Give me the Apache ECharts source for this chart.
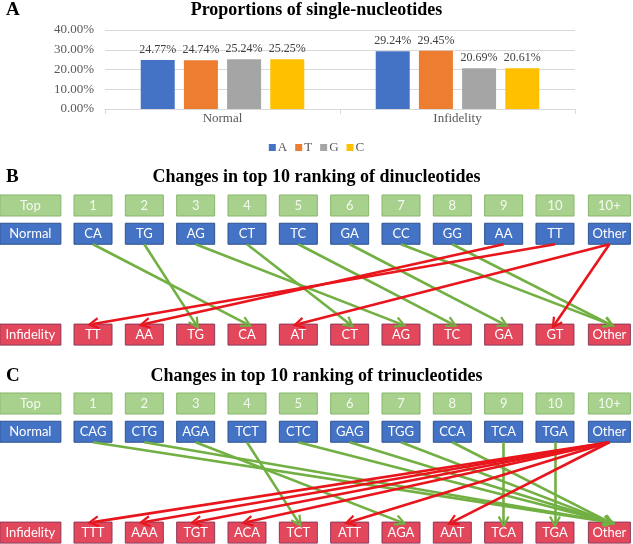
<!DOCTYPE html>
<html>
<head>
<meta charset="utf-8">
<script src="https://cdn.jsdelivr.net/npm/echarts@6/dist/echarts.min.js"></script>
<style>
html, body { margin: 0; padding: 0; background: #fff; }
#main { width: 633px; height: 544px; }
</style>
</head>
<body>
<div id="main"></div>
<script>
// panel A: proportions of single nucleotides (%)
const groups = ['Normal', 'Infidelity'];
const nucleotides = ['A', 'T', 'G', 'C'];
const normalPct = [24.77, 24.74, 25.24, 25.25];
const infidelityPct = [29.24, 29.45, 20.69, 20.61];

// panels B and C: top 10 rankings
const ranks = ['1', '2', '3', '4', '5', '6', '7', '8', '9', '10', '10+'];
const diNormal = ['CA', 'TG', 'AG', 'CT', 'TC', 'GA', 'CC', 'GG', 'AA', 'TT', 'Other'];
const diInfidelity = ['TT', 'AA', 'TG', 'CA', 'AT', 'CT', 'AG', 'TC', 'GA', 'GT', 'Other'];
const triNormal = ['CAG', 'CTG', 'AGA', 'TCT', 'CTC', 'GAG', 'TGG', 'CCA', 'TCA', 'TGA', 'Other'];
const triInfidelity = ['TTT', 'AAA', 'TGT', 'ACA', 'TCT', 'ATT', 'AGA', 'AAT', 'TCA', 'TGA', 'Other'];

const barColors = ['#4472c4', '#ed7d31', '#a5a5a5', '#ffc000'];
const SERIF = '"Liberation Serif", "Times New Roman", serif';
const SANS = 'Lato, "Noto Sans", sans-serif';

// layout of the ranking diagrams (axis units)
const ROW_Y = { top: 0, normal: 1, infidelity: 4.57 };
const BOX_H = 21;
const HALF_H = 0.372;
const LABEL_X = -0.22;
function colX (i) { return i === 10 ? 11.06 : i + 1; }

const BOX_STYLE = [
  { fill: '#a9d18e', stroke: '#86b86a', text: '#f4f9f0' },
  { fill: '#4472c4', stroke: '#2f528f', text: '#ffffff' },
  { fill: '#e2475c', stroke: '#8e3a5c', text: '#ffffff' }
];

function buildBoxes (normal, infidelity) {
  const boxes = [
    { x: LABEL_X, y: ROW_Y.top, text: 'Top', kind: 0, w: 61 },
    { x: LABEL_X, y: ROW_Y.normal, text: 'Normal', kind: 1, w: 61 },
    { x: LABEL_X, y: ROW_Y.infidelity, text: 'Infidelity', kind: 2, w: 61 }
  ];
  ranks.forEach((r, i) => {
    const w = i === 10 ? 42 : 38;
    boxes.push({ x: colX(i), y: ROW_Y.top, text: r, kind: 0, w });
    boxes.push({ x: colX(i), y: ROW_Y.normal, text: normal[i], kind: 1, w });
    boxes.push({ x: colX(i), y: ROW_Y.infidelity, text: infidelity[i], kind: 2, w });
  });
  return boxes;
}

// green = same or lower rank, red = moved up
function buildLinks (normal, infidelity) {
  const other = normal.length - 1;
  const green = [];
  const red = [];
  const add = (from, to) => {
    const link = { coords: [[colX(from), ROW_Y.normal + HALF_H], [colX(to), ROW_Y.infidelity - HALF_H]] };
    (to < from ? red : green).push(link);
  };
  normal.forEach((name, i) => {
    if (i === other) {
      infidelity.forEach((n2, j) => {
        if (j !== other && normal.indexOf(n2) < 0) add(i, j);
      });
    } else {
      const j = infidelity.indexOf(name);
      add(i, j < 0 ? other : j);
    }
  });
  return { green, red };
}

function boxSeries (boxes, idx) {
  return {
    type: 'custom',
    xAxisIndex: idx,
    yAxisIndex: idx,
    z: 3,
    silent: true,
    data: boxes.map(b => [b.x, b.y]),
    renderItem: function (params, api) {
      const b = boxes[params.dataIndex];
      const c = api.coord([b.x, b.y]);
      const st = BOX_STYLE[b.kind];
      return {
        type: 'group',
        children: [
          {
            type: 'rect',
            shape: { x: c[0] - b.w / 2, y: c[1] - BOX_H / 2, width: b.w, height: BOX_H },
            style: { fill: st.fill, stroke: st.stroke, lineWidth: 1 }
          },
          {
            type: 'text',
            style: {
              text: b.text, x: c[0], y: c[1] + 0.5, align: 'center', verticalAlign: 'middle',
              fill: st.text, fontSize: 13, fontFamily: SANS
            }
          }
        ]
      };
    }
  };
}

const ARROW = 'path://M5,0L10,9L8.3,9.8L5,3.8L1.7,9.8L0,9Z';
function linkSeries (links, color, idx) {
  return {
    type: 'lines',
    coordinateSystem: 'cartesian2d',
    xAxisIndex: idx,
    yAxisIndex: idx,
    z: 4,
    silent: true,
    symbol: ['none', ARROW],
    symbolSize: 12,
    lineStyle: { color: color, width: 2.6, opacity: 1 },
    data: links
  };
}

const diBoxes = buildBoxes(diNormal, diInfidelity);
const triBoxes = buildBoxes(triNormal, triInfidelity);
const diLinks = buildLinks(diNormal, diInfidelity);
const triLinks = buildLinks(triNormal, triInfidelity);

const GREEN = '#72b043';
const RED = '#e8161c';

function diagramX (idx) {
  return { type: 'value', gridIndex: idx, min: -0.812, max: 11.52, show: false };
}
function diagramY (idx) {
  return { type: 'value', gridIndex: idx, min: -0.4, max: 4.97, inverse: true, show: false };
}

const titleStyle = { fontFamily: SERIF, fontWeight: 'bold', fontSize: 18, color: '#000' };
const letterStyle = { fontFamily: SERIF, fontWeight: 'bold', fontSize: 19, color: '#000' };

const chart = echarts.init(document.getElementById('main'));
chart.setOption({
  animation: false,
  title: [
    { text: 'A', left: 6, top: 1, padding: 0, textStyle: letterStyle },
    { text: 'Proportions of single-nucleotides', left: 'center', top: 1, padding: 0, textStyle: titleStyle },
    { text: 'B', left: 6, top: 168, padding: 0, textStyle: letterStyle },
    { text: 'Changes in top 10 ranking of dinucleotides', left: 'center', top: 168, padding: 0, textStyle: titleStyle },
    { text: 'C', left: 6, top: 367, padding: 0, textStyle: letterStyle },
    { text: 'Changes in top 10 ranking of trinucleotides', left: 'center', top: 367, padding: 0, textStyle: titleStyle }
  ],
  legend: {
    data: nucleotides,
    top: 136,
    left: 'center',
    icon: 'rect',
    itemWidth: 7,
    itemHeight: 7,
    itemGap: 8,
    textStyle: { fontFamily: SERIF, fontSize: 13, color: '#595959', padding: [0, 0, 0, -3] }
  },
  grid: [
    { left: 105, right: 58, top: 30, height: 79 },
    { left: 0, right: 0, top: 194.2, height: 151.7 },
    { left: 0, right: 0, top: 392.2, height: 151.7 }
  ],
  xAxis: [
    {
      type: 'category',
      gridIndex: 0,
      data: groups,
      axisLine: { lineStyle: { color: '#d9d9d9' } },
      axisTick: { show: true, length: 5, lineStyle: { color: '#d9d9d9' } },
      axisLabel: { fontFamily: SERIF, fontSize: 13, color: '#595959', margin: 3 }
    },
    diagramX(1),
    diagramX(2)
  ],
  yAxis: [
    {
      type: 'value',
      gridIndex: 0,
      min: 0,
      max: 40,
      interval: 10,
      axisLine: { show: false },
      axisTick: { show: false },
      splitLine: { lineStyle: { color: '#d9d9d9' } },
      axisLabel: {
        fontFamily: SERIF, fontSize: 13, color: '#595959', margin: 11,
        formatter: v => v.toFixed(2) + '%'
      }
    },
    diagramY(1),
    diagramY(2)
  ],
  series: nucleotides.map((n, i) => ({
    name: n,
    type: 'bar',
    xAxisIndex: 0,
    yAxisIndex: 0,
    barWidth: 34,
    barGap: '27%',
    itemStyle: { color: barColors[i] },
    label: {
      show: true,
      position: 'top',
      distance: 4,
      fontFamily: SERIF,
      fontSize: 12,
      color: '#404040',
      formatter: p => p.value.toFixed(2) + '%'
    },
    data: [normalPct[i], infidelityPct[i]]
  })).concat([
    linkSeries(diLinks.green, GREEN, 1),
    linkSeries(diLinks.red, RED, 1),
    boxSeries(diBoxes, 1),
    linkSeries(triLinks.green, GREEN, 2),
    linkSeries(triLinks.red, RED, 2),
    boxSeries(triBoxes, 2)
  ])
});
</script>
</body>
</html>
